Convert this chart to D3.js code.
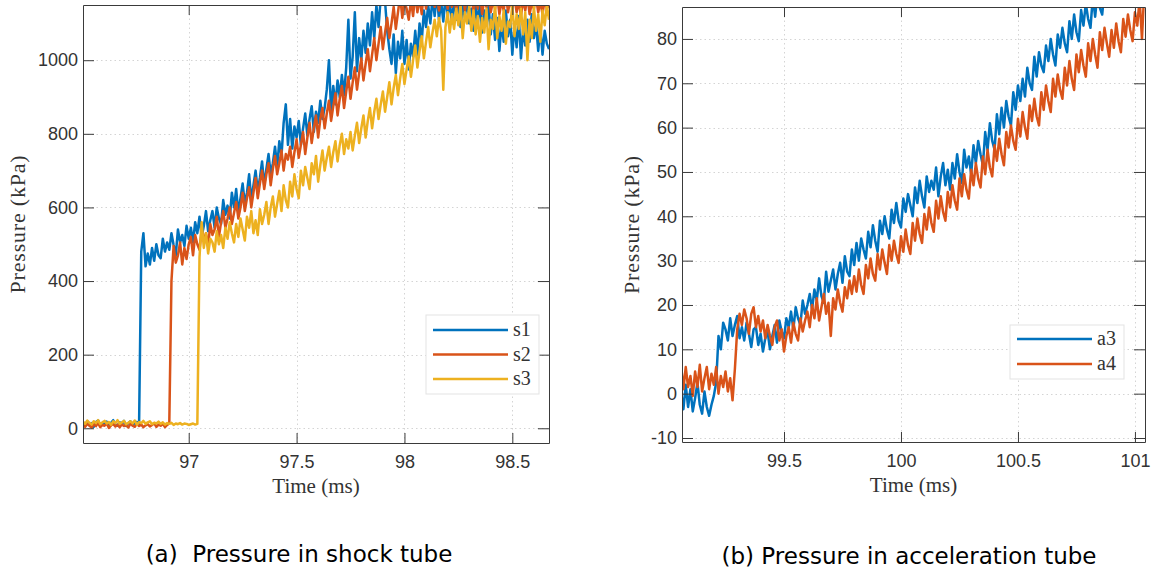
<!DOCTYPE html>
<html>
<head>
<meta charset="utf-8">
<script src="https://cdn.jsdelivr.net/npm/d3@7"></script>
<style>
  body { margin: 0; background: #fff; }
  svg { display: block; }
</style>
</head>
<body>
<svg id="fig" width="1152" height="571"></svg>
<script>
// samples are 0.01 ms apart
const sampleStep = 0.01;

// shock tube, first sample at 96.51 ms (kPa)
const shockStart = 96.51;
const s1 = [16, 6, 19, 9, 14, 4, 17, 21, 8, 13,
  11, 18, 5, 15, 22, 10, 7, 16, 12, 20,
  6, 14, 19, 8, 15, 17, 11,
  480, 530, 440,
  475, 445, 490, 455, 500, 470, 462, 515, 480, 505,
  485, 530, 498, 470, 540, 505, 525, 495, 550, 515,
  545, 505, 560, 530, 575, 520, 550, 590, 535, 565,
  590, 545, 600, 570, 555, 620, 580, 605, 570, 640,
  600, 650, 585, 625, 665, 610, 640, 690, 620, 660,
  700, 645, 680, 725, 660, 705, 745, 690, 720, 765,
  710, 780, 740, 830, 880, 770, 840, 760, 820, 790,
  835, 770, 815, 855, 795, 840, 875, 805, 860, 830,
  890, 840, 870, 920, 1000, 860, 930, 880, 945, 900,
  960, 905, 980, 1110, 950, 1010, 1130, 970, 1060, 1000,
  1080, 1020, 1100, 1040, 1130, 1060, 1150, 1090, 1170, 1180,
  1160, 1080, 1030, 990, 1070, 965, 1050, 1005, 1080, 990,
  1055, 975, 1045, 1010, 1080, 1015, 1100, 1050, 1135, 1090,
  1150, 1100, 1170, 1120, 1180, 1110, 1160, 1105, 1170, 1125,
  1155, 1100, 1175, 1110, 1160, 1090, 1150, 1115, 1170, 1100,
  1140, 1080, 1150, 1100, 1160, 1075, 1135, 1095, 1150, 1070,
  1125, 1055, 1115, 1025, 1100, 1050, 1135, 1065, 1110, 1015,
  1095, 1035, 1120, 1005, 1085, 1040, 1110, 1050, 1125, 1060,
  1100, 1025, 1090, 1015, 1080, 1045, 1030];
const s2 = [10, 4, 12, 7, 2, 11, 6, 14, 3, 9,
  7, 13, 1, 8, 12, 5, 10, 3, 11, 6,
  9, 2, 13, 7, 4, 12, 6, 10, 3, 8,
  11, 5, 9, 14, 4, 10, 7, 12, 3, 9, 13,
  400, 495, 450, 470, 505, 445, 490, 460, 500, 520,
  470, 525, 500, 485, 540, 510, 530, 495, 555, 525,
  540, 575, 520, 560, 590, 545, 570, 600, 555, 585,
  615, 570, 600, 640, 590, 625, 655, 600, 640, 680,
  625, 665, 700, 650, 690, 720, 660, 705, 740, 690,
  720, 755, 700, 745, 730, 765, 710, 750, 785, 735,
  770, 805, 745, 790, 830, 775, 815, 850, 790, 840,
  870, 815, 855, 890, 835, 875, 910, 850, 895, 930,
  870, 915, 955, 895, 940, 980, 920, 965, 1005, 945,
  990, 1030, 970, 1015, 1060, 1000, 1045, 1090, 1030, 1075,
  1115, 1060, 1100, 1145, 1085, 1130, 1175, 1115, 1160, 1140,
  1110, 1165, 1120, 1180, 1130, 1170, 1125, 1185, 1140, 1175,
  1150, 1190, 1145, 1180, 1135, 1175, 1150, 1190, 1140, 1170,
  1145, 1185, 1130, 1175, 1150, 1190, 1135, 1170, 1145, 1180,
  1130, 1170, 1140, 1185, 1125, 1165, 1145, 1180, 1130, 1160,
  1140, 1175, 1125, 1160, 1135, 1180, 1130, 1165, 1140, 1170,
  1130, 1160, 1120, 1165, 1135, 1175, 1125, 1155, 1140, 1170,
  1130, 1160, 1125, 1165, 1140, 1150];
const s3 = [18, 12, 21, 15, 10, 19, 14, 22, 11, 16,
  20, 13, 17, 9, 19, 14, 22, 12, 16, 20,
  11, 15, 19, 13, 21, 10, 17, 14, 20, 12,
  16, 19, 11, 15, 13, 18, 12, 16, 10, 14,
  12, 15, 9, 13, 11, 14, 10, 13, 12, 9,
  11, 13, 10, 12,
  465, 560, 490, 530, 475, 515, 505, 480, 535, 500,
  525, 490, 545, 515, 560, 530, 505, 555, 520, 570,
  540, 510, 575, 545, 590, 530, 565, 525, 595, 555,
  580, 615, 555, 600, 630, 575, 610, 645, 590, 660,
  620, 600, 670, 630, 690, 650, 625, 700, 660, 710,
  680, 650, 720, 690, 740, 670, 715, 755, 700, 735,
  765, 710, 750, 780, 725, 770, 800, 745, 785, 760,
  805, 755, 795, 830, 775, 815, 850, 790, 835, 870,
  815, 860, 895, 840, 880, 915, 860, 900, 940, 880,
  925, 960, 905, 950, 990, 935, 975, 1010, 955, 1000,
  1040, 980, 1025, 1065, 1005, 1050, 1090, 1035, 1075, 1110,
  1065, 1115, 1080, 920, 1090, 1130, 1075, 1125, 1085, 1140,
  1095, 1150, 1060, 1130, 1100, 1145, 1080, 1135, 1070, 1120,
  1050, 1115, 1075, 1140, 1030, 1110, 1085, 1150, 1060, 1120,
  1080, 1135, 1045, 1105, 1090, 1150, 1065, 1125, 1085, 1140,
  1070, 1130, 1000, 1110, 1060, 1145, 1080, 1125, 1050, 1135,
  1095, 1150, 1110];

// acceleration tube, first sample at 99.06 ms (kPa)
const accStart = 99.06;
const a3 = [0.5, -3.5, 2, -3, 1, -4, -1, 2.5, -2.5, -4.5,
  0.5, -3, -5, -2.5, -0.5, 2.5,
  13, 10, 16, 14.5, 12, 17, 13, 15.5, 17.5, 12.5,
  15, 12, 16, 13.5, 10.5, 14.5, 15, 11, 13.5, 9.5,
  12.5, 14, 10, 13, 15.5, 11.5, 16.5, 14, 12.5, 17,
  15, 18.5, 14.5, 19.5, 17, 15.5, 21, 18, 20, 22.5,
  19, 23.5, 21, 26, 22, 20.5, 27.5, 23, 25.5, 28,
  23.5, 27, 29.5, 25, 31, 27.5, 26.5, 32.5, 29, 34,
  30, 35, 32.5, 30.5, 36.5, 33, 38, 34.5, 32, 39,
  36, 40, 37, 35, 41.5, 38.5, 43, 39, 37.5, 44,
  41, 45, 42.5, 40, 46.5, 43, 48, 44.5, 42, 49,
  45.5, 48, 46, 51, 44.5, 49, 52, 47, 50.5, 46,
  52, 48.5, 54, 50, 47.5, 55, 51, 53.5, 49.5, 56,
  52, 57, 54, 51.5, 59, 55, 61, 57, 55, 63,
  58.5, 64.5, 60, 66, 62.5, 60.5, 68, 64, 69.5, 66,
  71, 67, 73.5, 70, 68.5, 76, 71.5, 77, 74, 72.5,
  78.5, 75, 80, 76.5, 74, 81, 78, 82.5, 79, 77,
  84, 80, 85.5, 81.5, 79.5, 86.5, 83, 88, 84.5, 82.5,
  89.5, 85, 90.5, 87, 85.5, 91, 88, 92.5, 89, 87.5,
  93, 90, 95, 91.5, 89.5, 96, 92, 97.5, 94, 92.5, 98, 95, 99, 96];
const a4 = [6.5, 1, 6, 1.5, 4, -0.5, 5, 1.5, 6.5, 0.5,
  3.5, 6, 1, 4.5, 2, 6, 0, 4, 1.5, 5,
  0.5, 3.5, -1.5, 5.5,
  14.5, 18, 15.5, 19, 17, 13.5, 18, 19.5, 15, 17.5,
  14, 16.5, 12.5, 15.5, 13, 11, 15, 16.5, 12, 14.5,
  9.5, 13, 15, 11.5, 16, 13.5, 12, 17, 14, 16.5,
  18.5, 15, 20, 17, 21.5, 16.5, 19.5, 22.5, 18, 20.5,
  13, 21.5, 19, 23.5, 20.5, 18.5, 24, 21.5, 25.5, 22.5,
  26.5, 23, 28, 24.5, 22.5, 29, 26, 30.5, 27, 25.5,
  31.5, 28, 32.5, 29.5, 27, 33.5, 30, 34.5, 31.5, 29.5,
  35.5, 32, 37, 33.5, 31.5, 38.5, 34.5, 39.5, 36, 34,
  40.5, 37, 42, 38.5, 36.5, 43.5, 39.5, 44.5, 41, 39,
  45.5, 42, 47, 43.5, 41.5, 48.5, 44.5, 49.5, 46, 44,
  50.5, 47, 52, 48.5, 46.5, 53.5, 49.5, 55, 51, 49,
  56, 52.5, 57.5, 54, 51.5, 59, 55.5, 60.5, 57, 55,
  62, 58, 63.5, 60, 57.5, 65, 61.5, 66.5, 62.5, 60.5,
  68, 64, 69.5, 66, 63.5, 71, 67, 72, 68.5, 66.5,
  73.5, 69.5, 75, 71, 68.5, 76.5, 72.5, 77.5, 74, 71.5,
  79, 75, 80, 76.5, 73.5, 81.5, 77.5, 82.5, 79, 76,
  82, 78, 83.5, 79.5, 77, 84.5, 80.5, 85.5, 82, 79.5,
  86, 83, 89, 80, 91, 87];

const shockTimeTicks = [97, 97.5, 98, 98.5];
const shockPressureTicks = [0, 200, 400, 600, 800, 1000];
const accTimeTicks = [99.5, 100, 100.5, 101];
const accPressureTicks = [-10, 0, 10, 20, 30, 40, 50, 60, 70, 80];

const blue = "#0072BD", orange = "#D95319", yellow = "#EDB120";

const svg = d3.select("#fig");

function drawPanel(p) {
    const g = svg.append("g")
        .attr("transform", `translate(${p.left},${p.top})`);

    const x = d3.scaleLinear().domain(p.xDomain).range([0, p.width]);
    const y = d3.scaleLinear().domain(p.yDomain).range([p.height, 0]);

    // dotted grid
    const grid = g.append("g")
        .attr("stroke", "#d4d4d4")
        .attr("stroke-width", 1)
        .attr("stroke-dasharray", "1.5,3");
    grid.selectAll(".gx").data(p.xTicks).join("line")
        .attr("x1", d => Math.round(x(d)) + 0.5).attr("x2", d => Math.round(x(d)) + 0.5)
        .attr("y1", 0).attr("y2", p.height);
    grid.selectAll(".gy").data(p.yTicks).join("line")
        .attr("y1", d => Math.round(y(d)) + 0.5).attr("y2", d => Math.round(y(d)) + 0.5)
        .attr("x1", 0).attr("x2", p.width);

    svg.append("defs").append("clipPath").attr("id", p.id + "-clip")
        .append("rect").attr("width", p.width).attr("height", p.height);

    const line = d3.line()
        .x((d, i) => x(p.start + i * sampleStep))
        .y(d => y(d));

    g.append("g")
        .attr("clip-path", `url(#${p.id}-clip)`)
        .selectAll("path")
        .data(p.series)
        .join("path")
        .attr("d", s => line(s.values))
        .attr("fill", "none")
        .attr("stroke", s => s.color)
        .attr("stroke-width", 2.5)
        .attr("stroke-linejoin", "round");

    const fmt = d => String(d);
    const bottom = g.append("g").attr("transform", `translate(0,${p.height})`)
        .call(d3.axisBottom(x).tickValues(p.xTicks).tickFormat(fmt)
            .tickSizeInner(-10).tickSizeOuter(0).tickPadding(12));
    const top = g.append("g")
        .call(d3.axisTop(x).tickValues(p.xTicks).tickFormat("")
            .tickSizeInner(-10).tickSizeOuter(0));
    const left = g.append("g")
        .call(d3.axisLeft(y).tickValues(p.yTicks).tickFormat(fmt)
            .tickSizeInner(-11).tickSizeOuter(0).tickPadding(5));
    const right = g.append("g").attr("transform", `translate(${p.width},0)`)
        .call(d3.axisRight(y).tickValues(p.yTicks).tickFormat("")
            .tickSizeInner(-11).tickSizeOuter(0));

    [bottom, top, left, right].forEach(a => {
        a.select(".domain").attr("stroke", "#3a3a3a");
        a.selectAll(".tick line").attr("stroke", "#3a3a3a");
        a.selectAll(".tick text")
            .attr("fill", "#333")
            .style("font-family", "'Liberation Sans', Arial, sans-serif")
            .style("font-size", "18px");
    });

    g.append("text")
        .attr("x", p.width / 2)
        .attr("y", p.height + 50)
        .attr("text-anchor", "middle")
        .attr("fill", "#333")
        .style("font-family", "'Liberation Serif', serif")
        .style("font-size", "21px")
        .text("Time (ms)");

    g.append("text")
        .attr("transform", `translate(${p.yLabelX},${p.height / 2}) rotate(-90)`)
        .attr("text-anchor", "middle")
        .attr("fill", "#333")
        .style("font-family", "'Liberation Serif', serif")
        .style("font-size", "22px")
        .style("letter-spacing", "0.8px")
        .text("Pressure (kPa)");

    // legend
    const lg = svg.append("g")
        .attr("transform", `translate(${p.legend.x},${p.legend.y})`);
    lg.append("rect")
        .attr("width", p.legend.w)
        .attr("height", p.legend.h)
        .attr("fill", "#fff")
        .attr("stroke", "#e3e3e3");
    const rows = lg.selectAll(".row").data(p.series).join("g")
        .attr("transform", (d, i) => `translate(0,${p.legend.first + i * p.legend.gap})`);
    rows.append("line")
        .attr("x1", 7).attr("x2", 82)
        .attr("stroke", d => d.color)
        .attr("stroke-width", 2.5);
    rows.append("text")
        .attr("x", 87).attr("y", 6)
        .attr("fill", "#333")
        .style("font-family", "'Liberation Serif', serif")
        .style("font-size", "20px")
        .text(d => d.name);

    svg.append("text")
        .attr("x", p.caption.x)
        .attr("y", p.caption.y)
        .attr("text-anchor", "middle")
        .attr("fill", "#000")
        .style("font-family", "'DejaVu Sans', sans-serif")
        .style("font-size", "23px")
        .style("white-space", "pre")
        .text(p.caption.text);
}

drawPanel({
    id: "shock",
    left: 83, top: 5, width: 466, height: 438,
    xDomain: [96.51, 98.67], yDomain: [-40, 1150],
    xTicks: shockTimeTicks, yTicks: shockPressureTicks,
    start: shockStart,
    yLabelX: -58,
    series: [
        { name: "s1", color: blue, values: s1 },
        { name: "s2", color: orange, values: s2 },
        { name: "s3", color: yellow, values: s3 }
    ],
    legend: { x: 426, y: 315, w: 113, h: 79, first: 15, gap: 24.5 },
    caption: { x: 299, y: 562, text: "(a)  Pressure in shock tube" }
});

drawPanel({
    id: "acc",
    left: 682, top: 7, width: 463, height: 435,
    xDomain: [99.064, 101.043], yDomain: [-10.9, 87.2],
    xTicks: accTimeTicks, yTicks: accPressureTicks,
    start: accStart,
    yLabelX: -43,
    series: [
        { name: "a3", color: blue, values: a3 },
        { name: "a4", color: orange, values: a4 }
    ],
    legend: { x: 1010, y: 325, w: 114, h: 54, first: 14, gap: 25 },
    caption: { x: 909, y: 564, text: "(b) Pressure in acceleration tube" }
});
</script>
</body>
</html>
